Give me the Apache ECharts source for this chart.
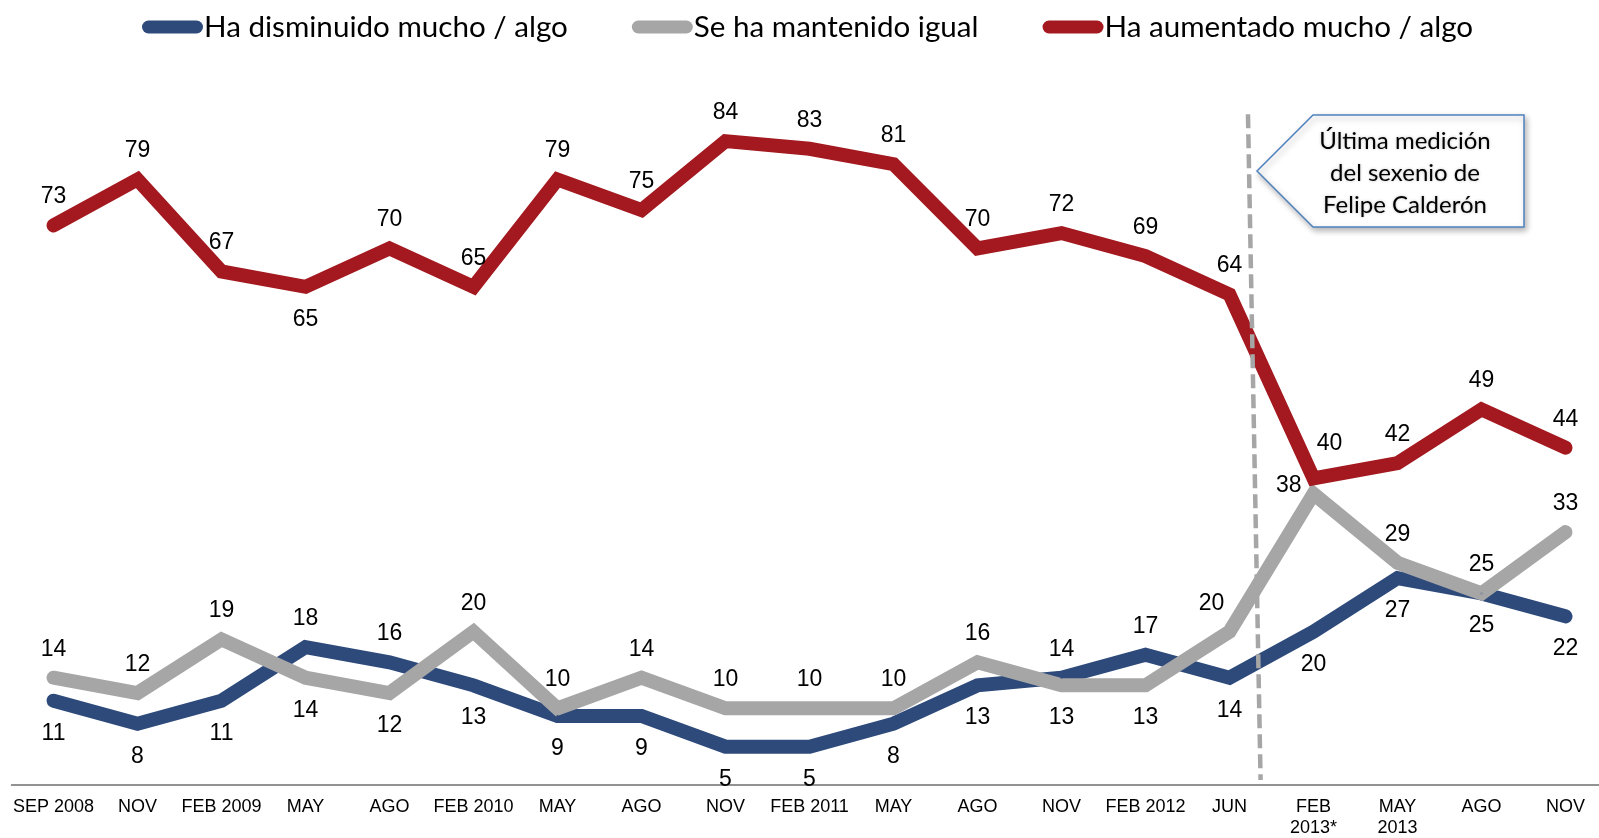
<!DOCTYPE html>
<html>
<head>
<meta charset="utf-8">
<title>Percepción</title>
<script src="https://cdn.jsdelivr.net/npm/echarts@6/dist/echarts.min.js"></script>
<style>
  html, body { margin: 0; padding: 0; background: #fff; }
  #chart { width: 1599px; height: 838px; }
</style>
</head>
<body>
<div id="chart"></div>
<script>
// categorías del eje X
const categories = ['SEP 2008', 'NOV', 'FEB 2009', 'MAY', 'AGO', 'FEB 2010', 'MAY', 'AGO', 'NOV',
  'FEB 2011', 'MAY', 'AGO', 'NOV', 'FEB 2012', 'JUN', 'FEB\n2013*', 'MAY\n2013', 'AGO', 'NOV']
const disminuido = [11, 8, 11, 18, 16, 13, 9, 9, 5, 5, 8, 13, 14, 17, 14, 20, 27, 25, 22]
const igual = [14, 12, 19, 14, 12, 20, 10, 14, 10, 10, 10, 16, 13, 13, 20, 38, 29, 25, 33]
const aumentado = [73, 79, 67, 65, 70, 65, 79, 75, 84, 83, 81, 70, 72, 69, 64, 40, 42, 49, 44]
const seriesNames = ['Ha disminuido mucho / algo', 'Se ha mantenido igual', 'Ha aumentado mucho / algo']

const COLORS = ['#2E4A7B', '#A6A6A6', '#A3191F']
const LABEL_FONT = { fontFamily: 'Liberation Sans, Arial, sans-serif', fontSize: 23, color: '#000' }
const UP = 16
const DOWN = 20

function lbl (pos, extra) {
  return Object.assign({ position: pos, distance: pos === 'top' ? UP : DOWN }, extra || {})
}

// etiqueta arriba para la serie más alta, abajo para la más baja
const blueData = disminuido.map((v, i) => ({
  value: v,
  label: lbl(v > igual[i] ? 'top' : 'bottom')
}))
const grayData = igual.map((v, i) => ({
  value: v,
  label: lbl(v >= disminuido[i] ? 'top' : 'bottom')
}))
const redData = aumentado.map((v, i) => ({
  value: v,
  label: lbl(i === 3 ? 'bottom' : 'top')
}))
// ajustes puntuales junto a la línea de corte
grayData[14].label = lbl('top', { offset: [-18, 0] })
grayData[15].label = { position: 'left', distance: 11, offset: [0, -8] }
redData[15].label = lbl('top', { offset: [16, -6] })

function lineSeries (name, data, color) {
  return {
    name: name,
    type: 'line',
    data: data,
    symbol: 'circle',
    symbolSize: 2,
    itemStyle: { color: color },
    lineStyle: { color: color, width: 14, cap: 'round', join: 'miter' },
    label: Object.assign({ show: true }, LABEL_FONT),
    emphasis: { disabled: true }
  }
}

const myChart = echarts.init(document.getElementById('chart'))

const option = {
  animation: false,
  grid: {
    left: 11.5,
    right: -8.5,
    top: 18.5,
    bottom: 53,
    outerBoundsMode: 'none'
  },
  legend: {
    data: seriesNames,
    left: 137,
    top: 7,
    itemWidth: 61,
    itemHeight: 13,
    itemGap: 64,
    icon: 'path://M6.5,0 H54.5 A6.5,6.5 0 0 1 54.5,13 H6.5 A6.5,6.5 0 0 1 6.5,0 Z',
    textStyle: { fontFamily: 'Lato, sans-serif', fontSize: 29.6, color: '#000', padding: [0, 0, 0, -4] }
  },
  xAxis: [{
    type: 'category',
    data: categories,
    boundaryGap: true,
    axisLine: { lineStyle: { color: '#6f6f6f', width: 1.5 } },
    axisTick: { length: 7, lineStyle: { color: '#6f6f6f', width: 1.5 } },
    axisLabel: {
      interval: 0,
      margin: 12,
      fontFamily: 'Liberation Sans, Arial, sans-serif',
      fontSize: 18,
      lineHeight: 21,
      color: '#000'
    },
    splitLine: { show: false }
  }, {
    // eje auxiliar para ubicar la línea de corte entre categorías
    type: 'value',
    min: -0.5,
    max: 18.5,
    show: false
  }],
  yAxis: {
    type: 'value',
    min: 0,
    max: 100,
    show: false,
    splitLine: { show: false }
  },
  series: [
    lineSeries(seriesNames[0], blueData, COLORS[0]),
    lineSeries(seriesNames[1], grayData, COLORS[1]),
    lineSeries(seriesNames[2], redData, COLORS[2]),
    {
      name: 'corte',
      type: 'line',
      xAxisIndex: 1,
      data: [],
      z: 10,
      markLine: {
        silent: true,
        symbol: ['none', 'none'],
        label: { show: false },
        lineStyle: { color: '#A6A6A6', width: 4.5, type: [14, 6] },
        data: [[{ coord: [14.22, 87.5] }, { coord: [14.37, 0.65] }]]
      }
    }
  ],
  graphic: [{
    type: 'polygon',
    z: 20,
    shape: { points: [[1257, 171], [1313, 115], [1524, 115], [1524, 227], [1313, 227]] },
    style: {
      fill: '#fff',
      stroke: '#4F81BD',
      lineWidth: 1.5,
      shadowBlur: 6,
      shadowOffsetX: 2,
      shadowOffsetY: 3,
      shadowColor: 'rgba(0,0,0,0.3)'
    }
  }, {
    type: 'text',
    z: 21,
    x: 1405,
    y: 173,
    style: {
      text: 'Última medición\ndel sexenio de\nFelipe Calderón',
      align: 'center',
      verticalAlign: 'middle',
      fontFamily: 'Lato, sans-serif',
      fontSize: 24,
      lineHeight: 32,
      fill: '#000',
      textShadowBlur: 3,
      textShadowColor: 'rgba(0,0,0,0.25)'
    }
  }]
}

myChart.setOption(option)
window.addEventListener('resize', function () {
  myChart.resize()
})
</script>
</body>
</html>
